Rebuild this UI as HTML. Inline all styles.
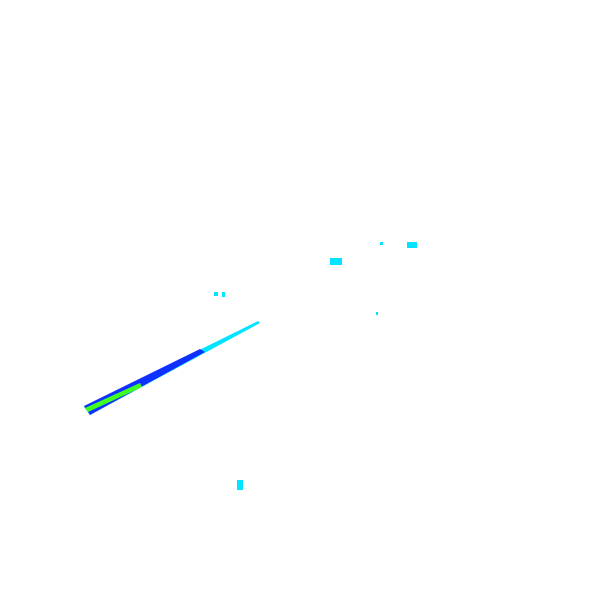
<!DOCTYPE html>
<html><head><style>html,body{margin:0;padding:0;background:#fff;width:600px;height:600px;overflow:hidden}</style></head>
<body>
<svg width="600" height="600" xmlns="http://www.w3.org/2000/svg">
<polygon points="84,407 258,321 260,323 90,415" fill="#00e5ff"/>
<polygon points="84,406 200,349 205,352 90,415" fill="#1030ff"/>
<polygon points="85,408 140,383 142,387 88,412" fill="#40ff20"/>
<g fill="#00e5ff">
<rect x="330" y="258" width="12" height="7"/>
<rect x="407" y="242" width="10" height="6"/>
<rect x="380" y="242" width="3" height="3"/>
<rect x="214" y="292" width="4" height="4"/>
<rect x="222" y="292" width="3" height="5"/>
<rect x="237" y="480" width="6" height="10"/>
<rect x="376" y="312" width="2" height="3"/>
</g>
</svg>
</body></html>
